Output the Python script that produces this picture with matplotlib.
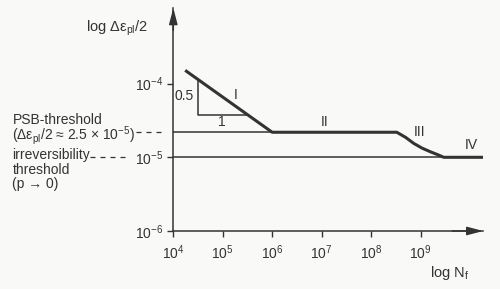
import numpy as np
import matplotlib
matplotlib.use("Agg")
import matplotlib.pyplot as plt
from matplotlib.transforms import blended_transform_factory

plt.rcParams['font.family'] = ['Liberation Sans', 'DejaVu Sans']
plt.rcParams['mathtext.fontset'] = 'custom'
plt.rcParams['mathtext.rm'] = 'Liberation Sans'
plt.rcParams['mathtext.it'] = 'Liberation Sans'
plt.rcParams['font.size'] = 10

# data (log10 values)
curve_logN = [4.24, 6.0, 8.52, 8.7, 8.86, 9.03, 9.2, 9.35, 9.47, 10.27]
curve_logeps = [-3.82, -4.66, -4.66, -4.73, -4.81, -4.875, -4.925, -4.965, -5.0, -5.0]
tri_logN = [4.506, 4.506, 5.498]
tri_logeps = [-3.94, -4.43, -4.43]
psb_logeps = -4.66
irr_logeps = -5.0
xtick_exp = [4, 5, 6, 7, 8, 9]
ytick_exp = [-6, -5, -4]

col = '#333333'
W, H = 500, 289

fig = plt.figure(figsize=(5.0, 2.89), dpi=100, facecolor='#f9f9f7')
ax = fig.add_axes([173.3/W, 1-231/H, 310/W, 223/H])
ax.set_facecolor('none')
ax.set_xscale('log')
ax.set_yscale('log')
ax.set_xlim(1e4, 10**10.27)
ax.set_ylim(1e-6, 10**-2.974)

for s in ['top', 'right']:
    ax.spines[s].set_visible(False)
for s in ['left', 'bottom']:
    ax.spines[s].set_color(col)
    ax.spines[s].set_linewidth(1.1)

ax.set_xticks([10.0**e for e in xtick_exp])
ax.set_xticklabels(['$\\mathregular{10^{%d}}$' % e for e in xtick_exp])
ax.set_yticks([10.0**e for e in ytick_exp])
ax.set_yticklabels(['$\\mathregular{10^{%d}}$' % e for e in ytick_exp])
ax.minorticks_off()
ax.tick_params(axis='x', direction='out', length=4, width=1, color=col,
               labelcolor=col, labelsize=10, pad=5)
ax.tick_params(axis='y', direction='out', length=4.5, width=1, color=col,
               labelcolor=col, labelsize=10, pad=3)

# arrow heads on the axes
arr = dict(arrowstyle='-|>,head_length=0.65,head_width=0.17', color=col,
           lw=1.1, shrinkA=0, shrinkB=0, mutation_scale=15)
ax.annotate('', xy=(1, 0), xytext=(0.9, 0), xycoords='axes fraction',
            arrowprops=arr, annotation_clip=False)
ax.annotate('', xy=(0, 1), xytext=(0, 0.9), xycoords='axes fraction',
            arrowprops=arr, annotation_clip=False)

# thresholds
ax.plot([1e4, 1e6], [10**psb_logeps]*2, color=col, lw=1.1)
ax.plot([1e4, 10**10.27], [10**irr_logeps]*2, color=col, lw=1.1)

# fatigue curve
ax.plot(10**np.array(curve_logN), 10**np.array(curve_logeps),
        color=col, lw=2.2, solid_capstyle='butt')
ax.plot(10**np.array(tri_logN), 10**np.array(tri_logeps), color=col, lw=1.1)

def ftext(x, y, s, **kw):
    kw.setdefault('color', col)
    kw.setdefault('va', 'center')
    fig.text(x/W, 1-y/H, s, **kw)

ftext(86, 28, 'log Δε$_{\\mathregular{pl}}$/2', fontsize=10.5)
ftext(430, 273, 'log N$_{\\mathregular{f}}$', fontsize=10.5)
ftext(184.5, 96.5, '0.5', ha='center')
ftext(222, 121.5, '1', ha='center')
ftext(236, 95, 'I', ha='center')
ftext(325, 121.5, 'II', ha='center')
ftext(420, 132.5, 'III', ha='center')
ftext(471, 145, 'IV', ha='center')

# multi-line labels on the left
ftext(12.5, 113.2,
      'PSB-threshold\n(Δε$_{\\mathregular{pl}}$/2 ≈ 2.5 × 10$^{\\mathregular{-5}}$)',
      va='top', linespacing=0.82)
ftext(12.5, 148.4, 'irreversibility\nthreshold\n(p → 0)',
      va='top', linespacing=1.03)

# dashed leaders to the thresholds
tr = blended_transform_factory(fig.transFigure, ax.transData)
ax.plot([136/W, 166/W], [10**psb_logeps]*2, transform=tr, color=col,
        lw=0.9, ls=(0, (4, 4)), clip_on=False)
ax.plot([90/W, 130/W], [10**irr_logeps]*2, transform=tr, color=col,
        lw=0.9, ls=(0, (4, 4)), clip_on=False)

fig.savefig('out.png', dpi=100, facecolor=fig.get_facecolor())
